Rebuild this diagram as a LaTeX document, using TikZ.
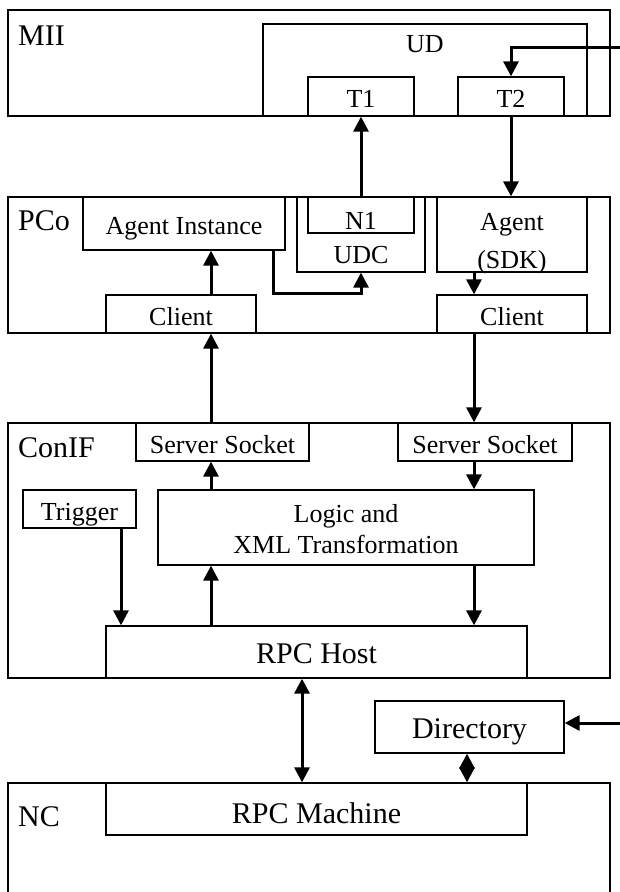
\documentclass[tikz,border=0pt]{standalone}
\usepackage{fontspec}
\setmainfont{Liberation Serif}
\usetikzlibrary{arrows.meta}

\tikzset{
  layer/.style={draw, line width=1.3pt, inner sep=0pt},
  box/.style={draw, line width=1.3pt, inner sep=0pt, text height=22pt, text depth=0pt,
              font=\fontsize{26}{31}\selectfont},
  bigbox/.style={box, font=\fontsize{30}{34}\selectfont},
  tag/.style={inner sep=0pt, anchor=base west, font=\fontsize{30}{34}\selectfont},
  txt/.style={inner sep=0pt, anchor=base, align=center, font=\fontsize{26}{31}\selectfont},
  arr/.style={line width=3pt, -{Triangle[length=15pt,width=15pt]}},
  dblarr/.style={line width=3pt, {Triangle[length=15pt,width=15pt]}-{Triangle[length=15pt,width=15pt]}},
}

\begin{document}
\begin{tikzpicture}[x=1pt,y=-1pt]
                \clip (0,0) rectangle (620,892);

                \node[layer, minimum width=602pt, minimum height=106pt] (mii) at (309,63) {};
                \node[layer, minimum width=602pt, minimum height=136pt] (pco) at (309,265) {};
                \node[layer, minimum width=602pt, minimum height=255pt] (conif) at (309,550.5) {};
                \node[layer, minimum width=602pt, minimum height=157pt] (nc) at (309,861.5) {};
                \node[tag] (miiL) at (18,45) {MII};
                \node[tag] (pcoL) at (18,230) {PCo};
                \node[tag] (conifL) at (18,457) {ConIF};
                \node[tag] (ncL) at (18,826) {NC};

                \node[layer, minimum width=324pt, minimum height=92pt] (ud) at (425,70) {};
                \node[txt] (udL) at (425,52) {UD};
                \node[box, minimum width=106pt, minimum height=39pt] (t1) at (361,96.5) {T1};
                \node[box, minimum width=106pt, minimum height=39pt] (t2) at (511,96.5) {T2};

                \node[box, minimum width=202pt, minimum height=53pt] (ai) at (184,223.5) {Agent Instance};
                \node[layer, minimum width=128pt, minimum height=75pt] (udc) at (361,234.5) {};
                \node[txt] (udcL) at (361,263) {UDC};
                \node[box, text height=28pt, minimum width=106pt, minimum height=36pt] (n1) at (361,215) {N1};
                \node[layer, minimum width=150pt, minimum height=75pt] (sdk) at (512,234.5) {};
                \node[txt] (sdkL) at (512,230) {Agent};
                \node[txt] (sdkL2) at (512,268) {(SDK)};
                \node[box, minimum width=150pt, minimum height=38pt] (cli1) at (181,314) {Client};
                \node[box, minimum width=150pt, minimum height=38pt] (cli2) at (512,314) {Client};

                \node[box, minimum width=173pt, minimum height=38pt] (ss1) at (222.5,442) {Server Socket};
                \node[box, minimum width=174pt, minimum height=38pt] (ss2) at (485,442) {Server Socket};
                \node[box, minimum width=113pt, minimum height=38pt] (trig) at (79.5,509) {Trigger};
                \node[layer, minimum width=376pt, minimum height=75pt] (logic) at (346,527.5) {};
                \node[txt] (logicL) at (346,522) {Logic and};
                \node[txt] (logicL2) at (346,553) {XML Transformation};
                \node[bigbox, minimum width=421pt, minimum height=52pt] (host) at (316.5,652) {RPC Host};

                \node[bigbox, minimum width=189pt, minimum height=52pt] (dir) at (469.5,727) {Directory};
                \node[bigbox, text height=28pt, minimum width=421pt, minimum height=52pt] (rpcm) at (316.5,809) {RPC Machine};

                \coordinate (colL) at (211,0);
                \coordinate (colR) at (474,0);
                \coordinate (colT) at (121,0);
                \coordinate (colU) at (273,0);
                \coordinate (colH) at (302,0);
                \coordinate (colD) at (467,0);
                \coordinate (udIn) at (620,47);
                \coordinate (dirIn) at (620,723);

                \draw[arr] (udIn) -| (t2.north);
                \draw[arr] (n1.north) -- (t1.south);
                \draw[arr] (t2.south) -- (t2.south |- sdk.north);
                \draw[arr] (colU |- ai.south) -- (colU |- 0,293) -| (udc.south);
                \draw[arr] (colL |- cli1.north) -- (colL |- ai.south);
                \draw[arr] (colR |- sdk.south) -- (colR |- cli2.north);
                \draw[arr] (colL |- ss1.north) -- (colL |- cli1.south);
                \draw[arr] (colR |- cli2.south) -- (colR |- ss2.north);
                \draw[arr] (colL |- logic.north) -- (colL |- ss1.south);
                \draw[arr] (colR |- ss2.south) -- (colR |- logic.north);
                \draw[arr] (colL |- host.north) -- (colL |- logic.south);
                \draw[arr] (colR |- logic.south) -- (colR |- host.north);
                \draw[arr] (colT |- trig.south) -- (colT |- host.north);
                \draw[dblarr] (colH |- host.south) -- (colH |- rpcm.north);
                \draw[arr] (dirIn) -- (dirIn -| dir.east);
                \draw[dblarr] (colD |- dir.south) -- (colD |- rpcm.north);
            \end{tikzpicture}
\end{document}
